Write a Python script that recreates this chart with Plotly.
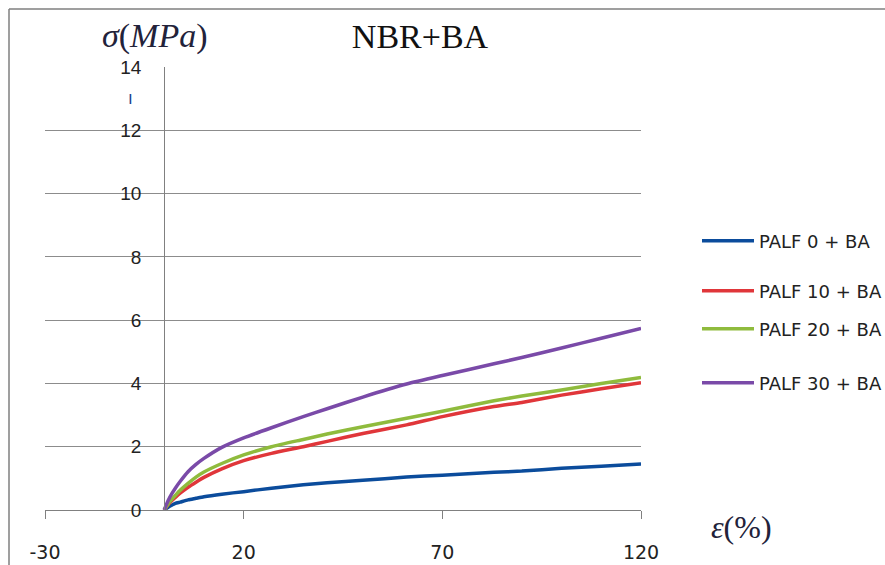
import plotly.graph_objects as go

strain = [0, 1, 2, 2.8, 4, 6, 8, 10, 14.5, 20, 27, 35, 41, 50, 61, 70, 83, 90, 100, 110, 120]
palf0 = [0, 0.09, 0.16, 0.21, 0.25, 0.32, 0.37, 0.42, 0.50, 0.58, 0.69, 0.80, 0.86, 0.94, 1.04, 1.10, 1.19, 1.23, 1.32, 1.38, 1.45]
palf10 = [0, 0.17, 0.31, 0.40, 0.53, 0.72, 0.88, 1.03, 1.30, 1.56, 1.79, 2.00, 2.17, 2.42, 2.69, 2.95, 3.27, 3.40, 3.63, 3.83, 4.02]
palf20 = [0, 0.19, 0.35, 0.46, 0.62, 0.84, 1.04, 1.20, 1.47, 1.74, 2.00, 2.23, 2.40, 2.63, 2.90, 3.12, 3.45, 3.60, 3.79, 4.00, 4.19]
palf30 = [0, 0.30, 0.53, 0.69, 0.90, 1.21, 1.44, 1.63, 1.98, 2.28, 2.60, 2.95, 3.20, 3.57, 3.98, 4.25, 4.62, 4.82, 5.12, 5.43, 5.74]

series_names = ["PALF 0 + BA", "PALF 10 + BA", "PALF 20 + BA", "PALF 30 + BA"]
series_values = [palf0, palf10, palf20, palf30]
colors = ["#0b4c9c", "#e0363a", "#8fbb3d", "#7a4aa8"]

x_ticks = [-30, 20, 70, 120]
y_ticks = [0, 2, 4, 6, 8, 10, 12, 14]

W, H = 885, 565
L, R, T, B = 45, 244, 67, 55
pw, ph = W - L - R, H - T - B

def px_x(p):
    return (p - L) / pw

def px_y(p):
    return (H - B - p) / ph

legend_y_px = [241, 291, 329, 383]
legend_keys = ["legend", "legend2", "legend3", "legend4"]

fig = go.Figure()
for name, vals, c, lk in zip(series_names, series_values, colors, legend_keys):
    fig.add_trace(go.Scatter(x=strain, y=vals, mode="lines", name=name,
                             line=dict(color=c, width=3.5, shape="spline", smoothing=0.6),
                             legend=lk))

legend_common = dict(xanchor="left", yanchor="middle", bgcolor="rgba(0,0,0,0)",
                     font=dict(family="DejaVu Sans", size=18, color="#222222"),
                     itemwidth=52, borderwidth=0)
layout_legends = {}
for lk, ypx in zip(legend_keys, legend_y_px):
    layout_legends[lk] = dict(x=px_x(697), y=px_y(ypx), **legend_common)

fig.update_layout(
    width=W, height=H,
    margin=dict(l=L, r=R, t=T, b=B, autoexpand=False),
    paper_bgcolor="white", plot_bgcolor="white",
    showlegend=True,
    title=dict(text="NBR+BA", x=420 / W, y=1 - 36 / H, xref="container", yref="container",
               xanchor="center", yanchor="middle",
               font=dict(family="Liberation Serif", size=34, color="#111111")),
    xaxis=dict(range=[-30, 120], tickvals=x_ticks, ticktext=[str(v) for v in x_ticks],
               showgrid=False, zeroline=False, showline=True, linecolor="#808080", linewidth=1,
               ticks="outside", ticklen=8, tickcolor="#808080", ticklabelstandoff=17,
               automargin=False,
               tickfont=dict(family="DejaVu Sans", size=19, color="#222222")),
    yaxis=dict(range=[0, 14], tickvals=y_ticks, anchor="free", position=0.2,
               showgrid=True, gridcolor="#8c8c8c", gridwidth=1, zeroline=False,
               showline=True, linecolor="#808080", linewidth=1, ticks="",
               ticklabelstandoff=19, automargin=False,
               tickfont=dict(family="Liberation Sans", size=19, color="#222222")),
    annotations=[
        dict(text="<i>σ</i>(<i>MPa</i>)", x=px_x(155), y=px_y(36), xref="paper", yref="paper",
             showarrow=False, xanchor="center", yanchor="middle",
             font=dict(family="Liberation Serif", size=34, color="#22223a")),
        dict(text="<i>ε</i>(%)", x=px_x(742), y=px_y(527), xref="paper", yref="paper",
             showarrow=False, xanchor="center", yanchor="middle",
             font=dict(family="Liberation Serif", size=32, color="#22223a")),
        dict(text="ı", x=px_x(130), y=px_y(98), xref="paper", yref="paper",
             showarrow=False, xanchor="center", yanchor="middle",
             font=dict(family="DejaVu Sans", size=17, color="#1a3f8f")),
    ],
    shapes=[
        dict(type="line", xref="paper", yref="paper", x0=px_x(9), x1=px_x(885), y0=px_y(9), y1=px_y(9),
             line=dict(color="#7f7f7f", width=1.5)),
        dict(type="line", xref="paper", yref="paper", x0=px_x(9), x1=px_x(9), y0=px_y(9), y1=px_y(565),
             line=dict(color="#7f7f7f", width=1.5)),
    ],
    **layout_legends,
)

fig.write_html("out.html", config={"displayModeBar": False},
               post_script="document.body.style.margin='0';document.body.style.padding='0';")
